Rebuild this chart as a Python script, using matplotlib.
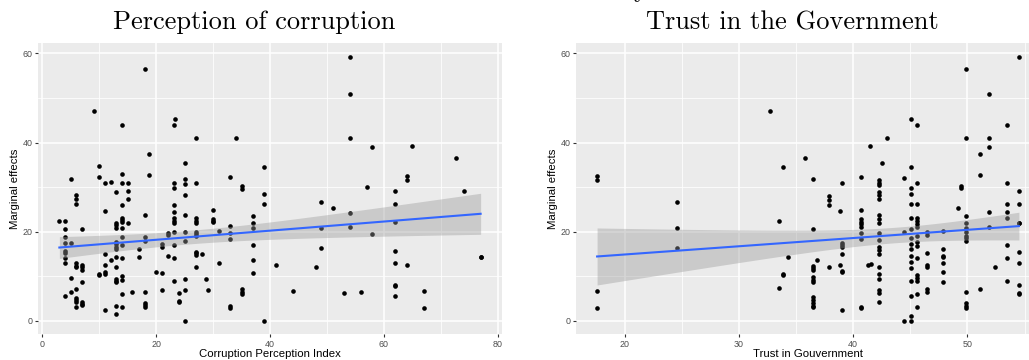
import numpy as np
import matplotlib
matplotlib.use("Agg")
import matplotlib.pyplot as plt
from matplotlib.ticker import MultipleLocator

# ---------------- data ----------------
cpi_cols = [
    (3.0, [22.5]),
    (4.0, [22.5, 20.5, 18.7, 17.5, 15.6, 15.3, 14.0, 12.9, 5.5]),
    (5.0, [31.8, 17.5, 9.7, 6.4]),
    (6.0, [28.2, 27.3, 26.1, 12.9, 12.3, 12.0, 7.2, 5.1, 4.65, 4.3, 3.1]),
    (7.0, [20.5, 12.5, 12.0, 11.5, 8.7, 4.3, 3.8, 3.45]),
    (9.0, [47.0]),
    (10.0, [34.7, 32.2, 10.3, 10.5]),
    (11.0, [31.0, 24.6, 15.0, 12.6, 11.0, 10.6, 2.5]),
    (12.0, [31.2, 13.6]),
    (13.0, [29.0, 22.0, 21.4, 20.9, 17.7, 17.2, 16.6, 16.1, 14.3, 12.1, 9.4, 8.9, 8.6, 3.3, 1.5]),
    (14.0, [44.0, 33.0, 31.0, 26.0, 23.0, 22.6, 22.2, 20.8, 18.9, 16.9, 14.0, 10.1, 9.1, 6.1, 3.2]),
    (15.0, [31.0, 29.1, 27.3, 22.0]),
    (15.7, [6.5]),
    (17.0, [16.0, 14.4]),
    (18.0, [56.6, 23.7, 18.7, 17.9, 6.5, 3.9, 3.5, 3.15]),
    (18.7, [37.4, 32.7]),
    (20.0, [11.0]),
    (21.0, [17.2, 16.6, 10.8, 7.0]),
    (22.0, [19.6, 19.25, 14.6]),
    (23.4, [45.3]),
    (23.1, [44.0, 31.0, 29.7, 26.0, 24.5, 23.0, 22.4, 22.0, 20.0, 17.0, 14.0, 8.9]),
    (24.0, [6.2, 4.4, 4.2]),
    (25.0, [35.4, 31.8, 30.6, 28.2, 23.7, 20.0, 18.0, 9.4, 6.8, 0.0]),
    (27.0, [41.0, 31.0, 23.0, 22.5, 22.0, 20.0, 19.5, 19.0, 15.5, 15.1, 14.75, 12.1]),
    (28.0, [14.9]),
    (28.8, [9.4]),
    (29.1, [7.0]),
    (30.0, [24.9, 22.8, 22.4, 22.2]),
    (31.0, [20.2, 13.0]),
    (33.0, [32.3, 21.3, 19.6, 18.3, 3.3, 2.85]),
    (34.0, [41.0]),
    (35.0, [30.2, 29.6, 7.05, 6.5, 6.0]),
    (37.0, [23.5, 21.9, 20.9, 17.0, 13.6, 10.8]),
    (39.0, [34.6, 28.4, 26.2, 0.0]),
    (41.0, [12.5]),
    (44.0, [6.6]),
    (48.0, [12.0]),
    (49.0, [26.7, 20.8, 16.3]),
    (51.0, [25.4]),
    (53.0, [6.2]),
    (54.0, [59.3, 51.0, 41.0, 24.2, 21.0]),
    (56.0, [6.4]),
    (57.0, [30.0]),
    (58.0, [39.0, 19.4]),
    (62.0, [29.1, 26.1, 22.1, 15.6, 13.0, 8.0, 7.7, 5.6]),
    (64.0, [32.6, 31.5, 12.6]),
    (65.0, [39.3]),
    (67.0, [6.7, 2.85]),
    (72.7, [36.5]),
    (74.0, [29.2]),
    (77.0, [14.4, 14.4]),
]

trust_cols = [
    (17.6, [32.5, 31.5, 6.75, 2.85]),
    (24.55, [26.7, 20.8, 16.3]),
    (32.7, [47.05]),
    (33.5, [22.5, 7.35]),
    (33.9, [34.6, 10.5, 10.3]),
    (34.3, [14.4]),
    (35.8, [36.5]),
    (36.45, [31.8, 20.6, 12.4, 11.9, 11.4, 9.75, 9.15, 8.6, 5.25, 4.65, 4.05, 3.4, 3.0]),
    (36.8, [13.6]),
    (37.9, [28.1, 27.05, 26.0, 12.0]),
    (38.85, [24.65, 12.6]),
    (39.05, [30.9, 17.5, 17.0, 16.5, 15.0, 11.2, 10.9, 2.5]),
    (40.7, [32.3, 24.95, 22.85, 22.25, 21.65, 21.1, 19.6, 18.3, 3.15, 2.9]),
    (41.3, [12.6]),
    (41.6, [12.8]),
    (41.45, [39.3]),
    (42.3, [31.6, 31.0, 30.5, 29.0, 28.2, 27.35, 23.75, 22.85, 22.0, 19.6, 18.1,
            16.6, 15.9, 14.9, 12.1, 10.4, 9.4, 6.9, 6.15, 4.3]),
    (42.55, [35.4]),
    (42.95, [41.0]),
    (44.45, [32.1, 20.0, 0.0]),
    (45.05, [45.3, 34.6, 29.75, 28.4, 26.2, 23.0, 20.5, 18.65, 17.2, 16.05, 14.6,
             13.1, 11.8, 9.0, 5.55, 1.05, 0.0]),
    (45.55, [44.0, 31.0, 26.1, 23.0, 22.4, 21.65, 21.05, 19.1, 17.75, 16.85, 14.0,
             10.3, 9.7, 9.0, 6.1, 3.2]),
    (46.5, [19.25, 20.0, 15.3, 12.5, 12.1, 6.5, 7.05]),
    (47.9, [20.2, 16.05, 14.5, 14.4, 13.0, 11.0, 8.8]),
    (49.15, [25.4]),
    (49.45, [30.3, 29.8]),
    (49.85, [56.6, 41.0, 23.6, 22.0, 20.75, 20.0, 19.0, 18.5, 17.9, 6.5, 3.9, 3.4, 2.9]),
    (51.1, [37.4, 32.7, 7.05]),
    (51.9, [51.0, 41.0, 39.0, 24.3, 21.05]),
    (52.45, [12.1]),
    (53.5, [44.0, 31.0, 26.1, 24.5, 23.0, 17.0, 14.0, 8.85]),
    (54.5, [59.3, 29.15, 26.15, 22.0, 22.0, 15.5, 13.0, 8.0, 6.3, 6.0]),
]

cpi = np.array([x for x, ys in cpi_cols for _ in ys])
me_cpi = np.array([y for _, ys in cpi_cols for y in ys])
trust = np.array([x for x, ys in trust_cols for _ in ys])
me_trust = np.array([y for _, ys in trust_cols for y in ys])

titles = ["Perception of corruption", "Trust in the Government"]
xlabels = ["Corruption Perception Index", "Trust in Gouvernment"]
ylabel = "Marginal effects"

# ---------------- style ----------------
W, H = 1029, 360
fig = plt.figure(figsize=(W / 100, H / 100), dpi=100)
fig.patch.set_facecolor("white")

PANEL = "#EBEBEB"
TICKC = "#4D4D4D"
T_CRIT = 1.972


def expand(lo, hi, f=0.05):
    r = hi - lo
    return lo - r * f, hi + r * f


def draw(ax, x, y, xmaj, xmin, xlabel):
    ax.set_facecolor(PANEL)
    for s in ax.spines.values():
        s.set_visible(False)
    ax.set_axisbelow(True)
    ax.xaxis.set_major_locator(MultipleLocator(xmaj))
    ax.xaxis.set_minor_locator(MultipleLocator(xmin))
    ax.yaxis.set_major_locator(MultipleLocator(20))
    ax.yaxis.set_minor_locator(MultipleLocator(10))
    ax.grid(which="major", color="white", linewidth=1.1)
    ax.grid(which="minor", color="white", linewidth=0.55)
    ax.tick_params(which="major", length=2.5, width=0.8, color="#333333",
                   labelsize=6.4, labelcolor=TICKC, pad=1.5)
    ax.tick_params(which="minor", length=0)

    ax.scatter(x, y, s=11, color="black", linewidths=0, zorder=2)

    # linear fit with 95% confidence band
    b1, b0 = np.polyfit(x, y, 1)
    n = len(x)
    resid = y - (b0 + b1 * x)
    s = np.sqrt(np.sum(resid ** 2) / (n - 2))
    xs = np.linspace(x.min(), x.max(), 80)
    sxx = np.sum((x - x.mean()) ** 2)
    se = s * np.sqrt(1 / n + (xs - x.mean()) ** 2 / sxx)
    fit = b0 + b1 * xs
    ax.fill_between(xs, fit - T_CRIT * se, fit + T_CRIT * se, color="#999999",
                    alpha=0.4, linewidth=0, zorder=3)
    ax.plot(xs, fit, color="#3366FF", linewidth=1.5, zorder=4)

    ax.set_xlim(*expand(x.min(), x.max()))
    ax.set_ylim(*expand(0, max(me_cpi.max(), me_trust.max())))
    ax.set_xlabel(xlabel, fontsize=8.2, family="Liberation Sans", labelpad=0.3)
    ax.set_ylabel(ylabel, fontsize=8.2, family="Liberation Sans", labelpad=2)


bottom = 1 - 334 / H
height = (334 - 43.3) / H
ax1 = fig.add_axes([38.3 / W, bottom, (501.7 - 38.3) / W, height])
ax2 = fig.add_axes([576 / W, bottom, (1040 - 576) / W, height])

draw(ax1, cpi, me_cpi, 20, 10, xlabels[0])
draw(ax2, trust, me_trust, 10, 5, xlabels[1])
for lab in ax1.get_xticklabels() + ax1.get_yticklabels() + ax2.get_xticklabels() + ax2.get_yticklabels():
    lab.set_family("Liberation Sans")

fig.text(253.7 / W, 1 - 29 / H, titles[0], fontsize=19, family="cmr10",
         ha="center", va="baseline")
fig.text(792 / W, 1 - 29 / H, titles[1], fontsize=19, family="cmr10",
         ha="center", va="baseline")
fig.text(640 / W, 1 + 3 / H, "y", fontsize=19, family="cmr10",
         ha="center", va="baseline")

fig.savefig("out.png", dpi=100)
